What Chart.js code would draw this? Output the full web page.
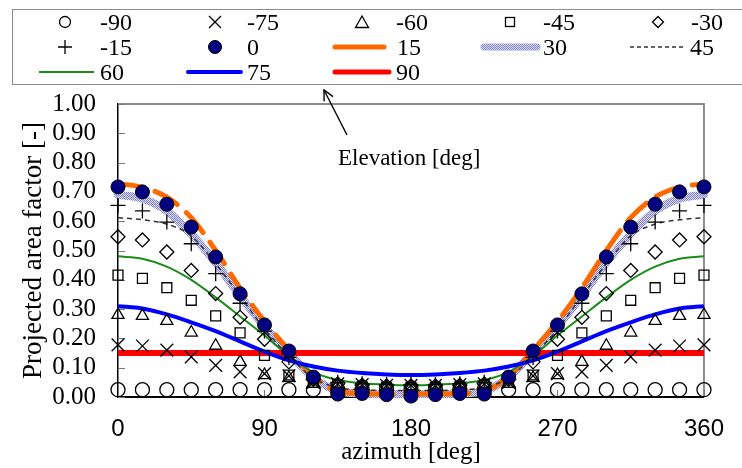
<!DOCTYPE html>
<html lang="en">
<head>
<meta charset="UTF-8">
<title>Projected area factor</title>
<script src="https://cdn.jsdelivr.net/npm/chart.js"></script>
<style>
    body { margin: 0; background: #fff; }
    #wrap { position: relative; width: 742px; height: 468px; }
    #overlay { position: absolute; left: 0; top: 0; pointer-events: none; }
    #overlay text { font-family: 'Liberation Serif', serif; fill: #000; }
</style>
</head>
<body>
<div id="wrap">
    <canvas id="chart" width="742" height="468"></canvas>
    <svg id="overlay" width="742" height="468">
        <defs>
            <pattern id="hatch" width="2" height="2" patternUnits="userSpaceOnUse">
                <rect width="2" height="2" fill="#dcdcf4"/>
                <rect width="1" height="1" fill="#8080cc"/>
                <rect x="1" y="1" width="1" height="1" fill="#8080cc"/>
            </pattern>
            <marker id="ah" markerWidth="12" markerHeight="12" refX="11" refY="6" orient="auto" markerUnits="userSpaceOnUse">
                <path d="M1,1 L11,6 L1,11" fill="none" stroke="#000" stroke-width="1.4"/>
            </marker>
        </defs>
        <!-- legend -->
        <rect x="12.5" y="9.5" width="760" height="75" fill="#fff" stroke="#8c8c8c" stroke-width="1"/>
        <g stroke="#000" stroke-width="1.3" fill="none">
            <circle cx="65" cy="22" r="5.5" fill="#fff"/>
            <path d="M209,16 L221,28 M221,16 L209,28"/>
            <path d="M362,16 L368.5,27.5 L355.5,27.5 Z"/>
            <rect x="505.5" y="17.5" width="9" height="9"/>
            <path d="M658,16.5 L663.5,22 L658,27.5 L652.5,22 Z"/>
            <path d="M58,47 L72,47 M65,40 L65,54"/>
            <circle cx="215" cy="47" r="6.5" fill="#000080" stroke-width="1"/>
        </g>
        <line x1="335" y1="47" x2="384" y2="47" stroke="#ff6a00" stroke-width="5" stroke-linecap="round"/>
        <line x1="484" y1="47" x2="537" y2="47" stroke="url(#hatch)" stroke-width="7" stroke-linecap="round"/>
        <line x1="630" y1="47" x2="684" y2="47" stroke="#333" stroke-width="1.5" stroke-dasharray="4 3"/>
        <line x1="39" y1="72" x2="94" y2="72" stroke="#1a8c1a" stroke-width="2"/>
        <line x1="188" y1="72" x2="241" y2="72" stroke="#0000ff" stroke-width="4" stroke-linecap="round"/>
        <line x1="335" y1="72" x2="389" y2="72" stroke="#ff0000" stroke-width="5" stroke-linecap="round"/>
        <g font-size="24" dominant-baseline="central">
            <text x="100" y="22">-90</text>
            <text x="247" y="22">-75</text>
            <text x="396" y="22">-60</text>
            <text x="543" y="22">-45</text>
            <text x="691" y="22">-30</text>
            <text x="100" y="47">-15</text>
            <text x="247" y="47">0</text>
            <text x="397" y="47">15</text>
            <text x="543" y="47">30</text>
            <text x="690" y="47">45</text>
            <text x="100" y="72">60</text>
            <text x="247" y="72">75</text>
            <text x="396" y="72">90</text>
        </g>
        <!-- annotation -->
        <line x1="347" y1="135" x2="324" y2="90" stroke="#000" stroke-width="1.4" marker-end="url(#ah)"/>
        <text x="338" y="157" font-size="23" dominant-baseline="central">Elevation [deg]</text>
    </svg>
</div>

<script>
    // azimuth [deg]
    const azimuth = [0, 15, 30, 45, 60, 75, 90, 105, 120, 135, 150, 165, 180,
                     195, 210, 225, 240, 255, 270, 285, 300, 315, 330, 345, 360];

    // marker series (elevation below horizon and 0)
    const elM90 = [0.025, 0.025, 0.025, 0.025, 0.025, 0.025, 0.025, 0.025, 0.025, 0.025, 0.025, 0.025, 0.025,
                   0.025, 0.025, 0.025, 0.025, 0.025, 0.025, 0.025, 0.025, 0.025, 0.025, 0.025, 0.025];
    const elM75 = [0.178, 0.174, 0.160, 0.137, 0.108, 0.086, 0.080, 0.072, 0.050, 0.045, 0.042, 0.040, 0.040,
                   0.040, 0.042, 0.045, 0.050, 0.072, 0.080, 0.086, 0.108, 0.137, 0.160, 0.174, 0.178];
    const elM60 = [0.280, 0.277, 0.260, 0.220, 0.175, 0.120, 0.075, 0.065, 0.045, 0.040, 0.037, 0.035, 0.035,
                   0.035, 0.037, 0.040, 0.045, 0.065, 0.075, 0.120, 0.175, 0.220, 0.260, 0.277, 0.280];
    const elM45 = [0.416, 0.405, 0.373, 0.330, 0.277, 0.219, 0.142, 0.075, 0.050, 0.040, 0.035, 0.033, 0.033,
                   0.033, 0.035, 0.040, 0.050, 0.075, 0.142, 0.219, 0.277, 0.330, 0.373, 0.405, 0.416];
    const elM30 = [0.547, 0.536, 0.495, 0.432, 0.353, 0.272, 0.197, 0.120, 0.060, 0.045, 0.040, 0.038, 0.038,
                   0.038, 0.040, 0.045, 0.060, 0.120, 0.197, 0.272, 0.353, 0.432, 0.495, 0.536, 0.547];
    const elM15 = [0.654, 0.635, 0.597, 0.523, 0.421, 0.320, 0.225, 0.135, 0.062, 0.050, 0.045, 0.043, 0.043,
                   0.043, 0.045, 0.050, 0.062, 0.135, 0.225, 0.320, 0.421, 0.523, 0.597, 0.635, 0.654];
    const el0   = [0.717, 0.700, 0.658, 0.580, 0.478, 0.352, 0.246, 0.157, 0.068, 0.010, 0.012, 0.008, 0.003,
                   0.008, 0.012, 0.010, 0.068, 0.157, 0.246, 0.352, 0.478, 0.580, 0.658, 0.700, 0.717];

    // line series (elevation above horizon)
    const el15 = [0.728, 0.716, 0.682, 0.612, 0.500, 0.372, 0.258, 0.160, 0.070, 0.020, 0.012, 0.010, 0.010,
                  0.010, 0.012, 0.020, 0.070, 0.160, 0.258, 0.372, 0.500, 0.612, 0.682, 0.716, 0.728];
    const el30 = [0.690, 0.677, 0.635, 0.556, 0.458, 0.345, 0.240, 0.150, 0.068, 0.020, 0.012, 0.010, 0.010,
                  0.010, 0.012, 0.020, 0.068, 0.150, 0.240, 0.345, 0.458, 0.556, 0.635, 0.677, 0.690];
    const el45 = [0.612, 0.605, 0.590, 0.550, 0.455, 0.345, 0.232, 0.140, 0.065, 0.032, 0.025, 0.022, 0.022,
                  0.022, 0.025, 0.032, 0.065, 0.140, 0.232, 0.345, 0.455, 0.550, 0.590, 0.605, 0.612];
    const el60 = [0.480, 0.472, 0.445, 0.400, 0.340, 0.275, 0.210, 0.140, 0.085, 0.058, 0.047, 0.042, 0.040,
                  0.042, 0.047, 0.058, 0.085, 0.140, 0.210, 0.275, 0.340, 0.400, 0.445, 0.472, 0.480];
    const el75 = [0.310, 0.302, 0.282, 0.255, 0.225, 0.190, 0.155, 0.125, 0.104, 0.090, 0.082, 0.077, 0.075,
                  0.077, 0.082, 0.090, 0.104, 0.125, 0.155, 0.190, 0.225, 0.255, 0.282, 0.302, 0.310];
    const el90 = [0.150, 0.150, 0.150, 0.150, 0.150, 0.150, 0.150, 0.150, 0.150, 0.150, 0.150, 0.150, 0.150,
                  0.150, 0.150, 0.150, 0.150, 0.150, 0.150, 0.150, 0.150, 0.150, 0.150, 0.150, 0.150];

    const yTicks = [0, 0.1, 0.2, 0.3, 0.4, 0.5, 0.6, 0.7, 0.8, 0.9, 1.0];
    const xTicks = [0, 90, 180, 270, 360];

    const pts = vals => azimuth.map((a, i) => ({x: a, y: vals[i]}));

    // dotted blue-purple fill for the 30 deg line
    function hatchPattern() {
        const c = document.createElement('canvas');
        c.width = 2; c.height = 2;
        const g = c.getContext('2d');
        g.fillStyle = '#dcdcf4';
        g.fillRect(0, 0, 2, 2);
        g.fillStyle = '#8080cc';
        g.fillRect(0, 0, 1, 1);
        g.fillRect(1, 1, 1, 1);
        return g.createPattern(c, 'repeat');
    }

    const marker = (label, vals, style, radius, extra) => Object.assign({
        label: label, data: pts(vals), showLine: false,
        pointStyle: style, pointRadius: radius,
        pointBackgroundColor: 'rgba(0,0,0,0)', pointBorderColor: '#000',
        pointBorderWidth: 1.3, order: 1, clip: false
    }, extra || {});

    const curve = (label, vals, color, width, extra) => Object.assign({
        label: label, data: pts(vals), borderColor: color, borderWidth: width,
        pointRadius: 0, cubicInterpolationMode: 'monotone', fill: false, clip: false
    }, extra || {});

    const datasets = [
        marker('0', el0, 'circle', 7, {pointBackgroundColor: '#000080', pointBorderWidth: 1, order: 0}),
        marker('-90', elM90, 'circle', 7),
        marker('-75', elM75, 'crossRot', 9),
        marker('-60', elM60, 'triangle', 7),
        marker('-45', elM45, 'rect', 7),
        marker('-30', elM30, 'rectRot', 7),
        marker('-15', elM15, 'cross', 7.5),
        curve('15', el15, '#ff6a00', 5, {borderDash: [26, 12], borderCapStyle: 'round', order: 8}),
        curve('30', el30, hatchPattern(), 8, {borderCapStyle: 'round', order: 9}),
        curve('45', el45, '#333333', 1.5, {borderDash: [5, 4], order: 7}),
        curve('60', el60, '#1a8c1a', 2, {order: 6}),
        curve('75', el75, '#0000ff', 4, {order: 4}),
        curve('90', el90, '#ff0000', 6, {order: 5})
    ];

    // grey frame on top/right plus short inner tick marks
    const frame = {
        id: 'frame',
        beforeDatasetsDraw(chart) {
            const {ctx, chartArea: a, scales: {x, y}} = chart;
            ctx.save();
            ctx.strokeStyle = '#8c8c8c';
            ctx.lineWidth = 2;
            ctx.beginPath();
            ctx.moveTo(a.left, a.top);
            ctx.lineTo(a.right, a.top);
            ctx.lineTo(a.right, a.bottom);
            ctx.stroke();
            ctx.lineWidth = 1;
            ctx.strokeStyle = '#777';
            ctx.beginPath();
            yTicks.forEach(v => {
                const py = Math.round(y.getPixelForValue(v)) + 0.5;
                ctx.moveTo(a.left, py);
                ctx.lineTo(a.left + 7, py);
            });
            xTicks.forEach(v => {
                const px = Math.round(x.getPixelForValue(v)) + 0.5;
                ctx.moveTo(px, a.bottom);
                ctx.lineTo(px, a.bottom - 7);
            });
            ctx.stroke();
            ctx.restore();
        }
    };

    new Chart(document.getElementById('chart'), {
        type: 'line',
        data: {datasets: datasets},
        options: {
            responsive: false,
            animation: false,
            layout: {padding: {top: 104, right: 32, left: 0, bottom: 0}},
            plugins: {legend: {display: false}, tooltip: {enabled: false}},
            scales: {
                x: {
                    type: 'linear', min: 0, max: 360,
                    afterFit: s => { s.height = 71; },
                    afterBuildTicks: s => { s.ticks = xTicks.map(v => ({value: v})); },
                    ticks: {color: '#000', font: {family: 'Liberation Sans', size: 24}, padding: 18,
                            maxRotation: 0, autoSkip: false},
                    grid: {display: false, drawTicks: false},
                    border: {color: '#000', width: 2},
                    title: {display: true, text: 'azimuth [deg]', color: '#000',
                            font: {family: 'Liberation Serif', size: 25}, padding: {top: 0, bottom: 1}}
                },
                y: {
                    min: 0, max: 1,
                    afterFit: s => { s.width = 118; },
                    afterBuildTicks: s => { s.ticks = yTicks.map(v => ({value: v})); },
                    ticks: {color: '#000', font: {family: 'Liberation Serif', size: 25}, padding: 22,
                            autoSkip: false, callback: v => v.toFixed(2)},
                    grid: {display: false, drawTicks: false},
                    border: {color: '#000', width: 1.5},
                    title: {display: true, text: 'Projected area factor [-]', color: '#000',
                            font: {family: 'Liberation Serif', size: 27}, padding: {top: 18, bottom: 0}}
                }
            }
        },
        plugins: [frame]
    });
</script>
</body>
</html>
